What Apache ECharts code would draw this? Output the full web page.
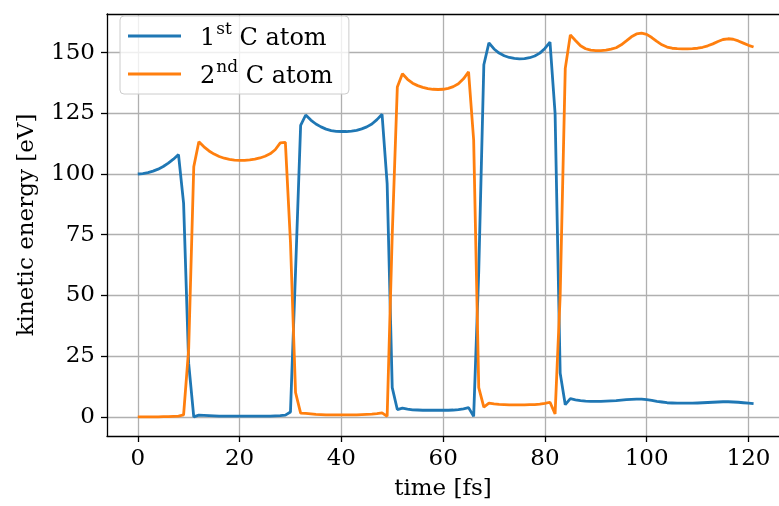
<!DOCTYPE html>
<html>
<head>
<meta charset="utf-8">
<script src="https://cdn.jsdelivr.net/npm/echarts@6/dist/echarts.min.js"></script>
<style>
  html, body { margin: 0; padding: 0; background: #fff; }
  #chart { width: 779px; height: 506px; }
</style>
</head>
<body>
<div id="chart"></div>
<script>
// time steps [fs]
const times = [
  0, 1, 2, 3, 4, 5, 6, 7, 8, 9, 10, 11, 12, 13, 14, 15, 16, 17, 18, 19,
  20, 21, 22, 23, 24, 25, 26, 27, 28, 29, 30, 31, 32, 33, 34, 35, 36, 37, 38, 39,
  40, 41, 42, 43, 44, 45, 46, 47, 48, 49, 50, 51, 52, 53, 54, 55, 56, 57, 58, 59,
  60, 61, 62, 63, 64, 65, 66, 67, 68, 69, 70, 71, 72, 73, 74, 75, 76, 77, 78, 79,
  80, 81, 82, 83, 84, 85, 86, 87, 88, 89, 90, 91, 92, 93, 94, 95, 96, 97, 98, 99,
  100, 101, 102, 103, 104, 105, 106, 107, 108, 109, 110, 111, 112, 113, 114, 115, 116, 117, 118, 119,
  120, 121
]

// kinetic energy of the 1st C atom [eV]
const atom1 = [
  100, 100.2, 100.6, 101.2, 102.0, 103.1, 104.5, 106.1, 108.0,
  88, 22,
  0, 0.7, 0.6, 0.5, 0.4, 0.3, 0.3, 0.3, 0.3, 0.3, 0.3, 0.3, 0.3, 0.3, 0.3, 0.3, 0.4, 0.5, 0.7, 2.0,
  60,
  120, 124.3, 122.2, 120.6, 119.4, 118.5, 117.9, 117.6, 117.5, 117.5, 117.7, 118.0, 118.6, 119.4, 120.6, 122.4, 124.6,
  96, 12,
  3.0, 3.6, 3.2, 2.9, 2.8, 2.7, 2.7, 2.7, 2.7, 2.7, 2.7, 2.8, 3.0, 3.3, 3.8,
  0.2, 60,
  145.0, 154.0, 151.5, 149.8, 148.7, 148.0, 147.6, 147.4, 147.5, 147.9, 148.6, 149.8, 151.7, 154.3,
  125, 18, 5,
  7.5, 7.0, 6.7, 6.5, 6.4, 6.4, 6.4, 6.5, 6.6, 6.7, 6.9, 7.1, 7.2, 7.3, 7.3, 7.1, 6.8, 6.4, 6.1,
  5.8, 5.7, 5.6, 5.6, 5.6, 5.6, 5.7, 5.8, 5.9, 6.0, 6.1, 6.2, 6.2, 6.1, 6.0, 5.8, 5.6, 5.4
]

// kinetic energy of the 2nd C atom [eV]
const atom2 = [
  0, 0, 0, 0, 0, 0.1, 0.1, 0.2, 0.3,
  0.8, 28,
  103, 113.3, 111.2, 109.5, 108.2, 107.2, 106.5, 106.0, 105.7, 105.6, 105.6, 105.8, 106.1, 106.6, 107.3, 108.3, 110.0, 112.8, 113.0,
  72, 10,
  1.5, 1.4, 1.2, 1.0, 0.9, 0.8, 0.8, 0.8, 0.8, 0.8, 0.8, 0.8, 0.9, 1.0, 1.1, 1.3, 1.6, 0.2,
  75,
  135.8, 141.3, 139.0, 137.4, 136.4, 135.7, 135.2, 134.9, 134.8, 134.9, 135.3, 136.0, 137.2, 139.2, 142.1,
  114, 12,
  4.0, 5.6, 5.3, 5.1, 5.0, 4.9, 4.9, 4.9, 4.9, 5.0, 5.0, 5.2, 5.5, 6.0, 1.2,
  50,
  143.5, 157.3, 155.0, 152.8, 151.6, 151.0, 150.8, 150.8, 151.0, 151.4, 152.0, 153.2, 154.8, 156.5, 157.7,
  158.0, 157.5, 156.2, 154.6, 153.2, 152.3, 151.8, 151.6, 151.5, 151.5, 151.6, 151.8, 152.2, 152.8, 153.6,
  154.6, 155.4, 155.7, 155.5, 154.8, 153.9, 153.0, 152.3
]

const xTicks = [0, 20, 40, 60, 80, 100, 120]
const yTicks = [0, 25, 50, 75, 100, 125, 150]

const FONT = 'DejaVu Serif'
const FS = 23

function pairs(ys) {
  return times.map((t, i) => [t, ys[i]])
}

const chart = echarts.init(document.getElementById('chart'))

const options = {
  animation: false,
  backgroundColor: '#fff',
  textStyle: { fontFamily: FONT, color: '#000' },
  grid: { left: 107, right: 0, top: 14, bottom: 68 },
  legend: {
    orient: 'vertical',
    left: 120,
    top: 16,
    padding: [5, 16, 5, 8],
    itemGap: 8,
    itemWidth: 53,
    itemHeight: 3,
    icon: 'rect',
    backgroundColor: 'rgba(255,255,255,0.8)',
    borderColor: '#cccccc',
    borderWidth: 1,
    borderRadius: 4,
    formatter: function(name) {
      // 1st / 2nd with superscript
      return name.replace(/^(\d)(st|nd)(.*)$/, '{gap|}{n|$1}{sup|$2}{n|$3}')
    },
    textStyle: {
      fontFamily: FONT,
      rich: {
        gap: { width: 14 },
        n: { fontFamily: FONT, fontSize: 24, color: '#000', lineHeight: 30, verticalAlign: 'bottom' },
        sup: { fontFamily: FONT, fontSize: 17, color: '#000', lineHeight: 30, verticalAlign: 'top', padding: [0, 0, 0, 1] }
      }
    }
  },
  xAxis: [
    {
      type: 'value',
      min: -6.05,
      max: 126,
      name: 'time [fs]',
      nameLocation: 'middle',
      nameGap: 42,
      nameTextStyle: { fontFamily: FONT, fontSize: FS, color: '#000' },
      axisLine: { show: true, onZero: false, lineStyle: { color: '#000', width: 1.3 } },
      axisTick: { show: true, length: 6, customValues: xTicks, lineStyle: { color: '#000', width: 1.3 } },
      axisLabel: { customValues: xTicks, margin: 12, fontFamily: FONT, fontSize: FS, color: '#000' },
      splitLine: { show: true, lineStyle: { color: '#b0b0b0', width: 1.3 } }
    },
    {
      type: 'value',
      position: 'top',
      min: -6.05,
      max: 126,
      axisLine: { show: true, onZero: false, lineStyle: { color: '#000', width: 1.3 } },
      axisTick: { show: false },
      axisLabel: { show: false },
      splitLine: { show: false }
    }
  ],
  yAxis: {
    type: 'value',
    min: -7.9,
    max: 165.9,
    name: 'kinetic energy [eV]',
    nameLocation: 'middle',
    nameGap: 68,
    nameTextStyle: { fontFamily: FONT, fontSize: FS, color: '#000' },
    axisLine: { show: true, onZero: false, lineStyle: { color: '#000', width: 1.3 } },
    axisTick: { show: true, length: 6, customValues: yTicks, lineStyle: { color: '#000', width: 1.3 } },
    axisLabel: { customValues: yTicks, margin: 12, fontFamily: FONT, fontSize: FS, color: '#000' },
    splitLine: { show: true, lineStyle: { color: '#b0b0b0', width: 1.3 } }
  },
  series: [
    {
      name: '1st C atom',
      type: 'line',
      symbol: 'none',
      xAxisIndex: 0,
      lineStyle: { color: '#1f77b4', width: 2.8 },
      itemStyle: { color: '#1f77b4' },
      data: pairs(atom1)
    },
    {
      name: '2nd C atom',
      type: 'line',
      symbol: 'none',
      xAxisIndex: 0,
      lineStyle: { color: '#ff7f0e', width: 2.8 },
      itemStyle: { color: '#ff7f0e' },
      data: pairs(atom2)
    }
  ]
}

chart.setOption(options)
</script>
</body>
</html>
